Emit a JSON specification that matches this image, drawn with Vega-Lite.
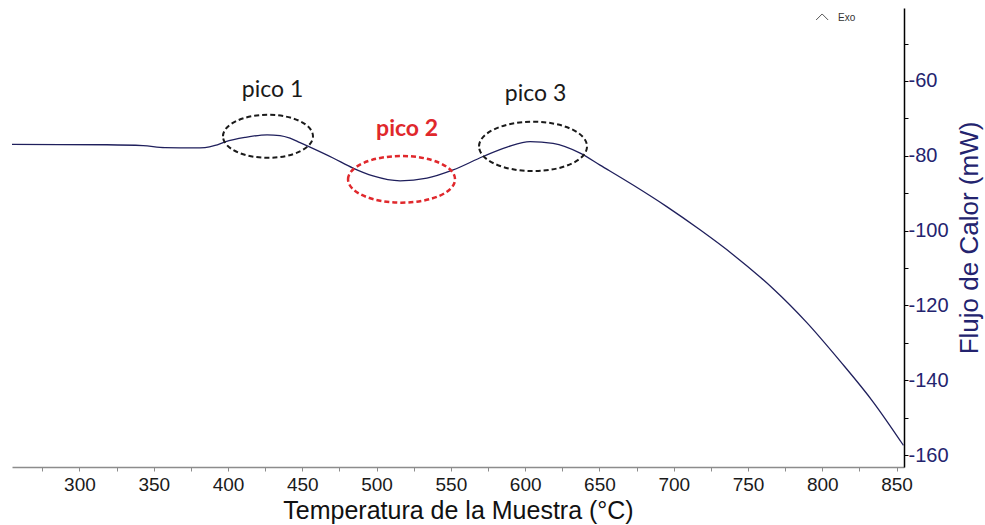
{
  "$schema": "https://vega.github.io/schema/vega-lite/v6.json",
  "width": 892,
  "height": 459,
  "autosize": {"type": "none"},
  "padding": {"left": 12, "top": 8, "right": 81, "bottom": 58},
  "background": "white",
  "config": {"view": {"stroke": null}},
  "datasets": {
    "curve": [
      {"T": 254.6, "flux": -76.98},
      {"T": 286.9, "flux": -77.0},
      {"T": 318.5, "flux": -77.06},
      {"T": 342.8, "flux": -77.3},
      {"T": 357.6, "flux": -77.8},
      {"T": 377.8, "flux": -77.9},
      {"T": 384.5, "flux": -77.8},
      {"T": 391.3, "flux": -77.25},
      {"T": 398.0, "flux": -76.3},
      {"T": 411.4, "flux": -75.1},
      {"T": 426.3, "flux": -74.4},
      {"T": 435.0, "flux": -74.6},
      {"T": 441.7, "flux": -75.3},
      {"T": 448.5, "flux": -76.5},
      {"T": 455.2, "flux": -77.7},
      {"T": 470.7, "flux": -80.6},
      {"T": 484.1, "flux": -83.3},
      {"T": 497.6, "flux": -85.4},
      {"T": 515.8, "flux": -86.7},
      {"T": 533.9, "flux": -86.0},
      {"T": 551.5, "flux": -83.8},
      {"T": 571.7, "flux": -80.2},
      {"T": 587.8, "flux": -77.7},
      {"T": 603.3, "flux": -76.2},
      {"T": 618.8, "flux": -76.7},
      {"T": 637.0, "flux": -79.3},
      {"T": 650.4, "flux": -82.5},
      {"T": 672.9, "flux": -87.9},
      {"T": 695.3, "flux": -93.6},
      {"T": 717.7, "flux": -99.8},
      {"T": 740.2, "flux": -106.5},
      {"T": 758.1, "flux": -112.4},
      {"T": 767.1, "flux": -115.6},
      {"T": 789.6, "flux": -124.6},
      {"T": 812.0, "flux": -134.9},
      {"T": 834.4, "flux": -145.9},
      {"T": 854.6, "flux": -157.4}
    ],
    "ellipses": [
      {"label": "pico 1", "T": 426.9, "flux": -74.8},
      {"label": "pico 2", "T": 516.8, "flux": -86.3},
      {"label": "pico 3", "T": 605.3, "flux": -77.5}
    ],
    "labels": [
      {"label": "pico 1", "T": 430.0, "flux": -62.4},
      {"label": "pico 2", "T": 520.5, "flux": -72.8},
      {"label": "pico 3", "T": 607.0, "flux": -63.5}
    ],
    "exo": [
      {"label": "Exo", "T": 799.9, "flux": -42.9, "tT": 810.6, "tflux": -43.2}
    ]
  },
  "encoding": {
    "x": {
      "field": "T",
      "type": "quantitative",
      "scale": {"domain": [254.6, 855], "nice": false, "zero": false},
      "axis": {
        "orient": "bottom",
        "title": "Temperatura de la Muestra (°C)",
        "values": [275, 300, 325, 350, 375, 400, 425, 450, 475, 500, 525, 550, 575, 600, 625, 650, 675, 700, 725, 750, 775, 800, 825, 850],
        "labelExpr": "datum.value % 50 == 0 ? '' + datum.value : ''",
        "labelOverlap": false,
        "labelFlush": false,
        "grid": false,
        "domainColor": "#8c8c8c",
        "domainWidth": 1.5,
        "tickColor": "#8c8c8c",
        "tickSize": 4,
        "labelFont": "Liberation Sans",
        "labelFontSize": 19,
        "labelColor": "#1a1a1a",
        "labelPadding": 4,
        "titleFont": "Liberation Sans",
        "titleFontSize": 25,
        "titleFontWeight": "normal",
        "titleColor": "#111111",
        "titlePadding": 4
      }
    },
    "y": {
      "field": "flux",
      "type": "quantitative",
      "scale": {"domain": [-163.2, -40.5], "nice": false, "zero": false},
      "axis": {
        "orient": "right",
        "title": "Flujo de Calor (mW)",
        "values": [-160, -150, -140, -130, -120, -110, -100, -90, -80, -70, -60, -50],
        "labelExpr": "datum.value % 20 == 0 ? '' + datum.value : ''",
        "labelOverlap": false,
        "labelFlush": false,
        "grid": false,
        "domainColor": "#000000",
        "domainWidth": 1.5,
        "tickColor": "#000000",
        "tickSize": 4,
        "labelFont": "Liberation Sans",
        "labelFontSize": 20,
        "labelColor": "#23236e",
        "labelPadding": 0,
        "titleFont": "Liberation Sans",
        "titleFontSize": 26,
        "titleFontWeight": "normal",
        "titleColor": "#23236e",
        "titleAngle": 270,
        "titlePadding": 34
      }
    }
  },
  "layer": [
    {
      "data": {"name": "curve"},
      "mark": {"type": "line", "color": "#1f1f5c", "strokeWidth": 1.3, "interpolate": "monotone"}
    },
    {
      "data": {"name": "ellipses"},
      "transform": [{"filter": "datum.label == 'pico 1'"}],
      "mark": {"type": "point", "filled": false, "stroke": "#1a1a1a", "strokeWidth": 2, "strokeDash": [5, 3], "opacity": 1, "size": 8100,
        "shape": "M -1 0 C -1 -0.264 -0.5523 -0.478 0 -0.478 C 0.5523 -0.478 1 -0.264 1 0 C 1 0.264 0.5523 0.478 0 0.478 C -0.5523 0.478 -1 0.264 -1 0 Z"}
    },
    {
      "data": {"name": "ellipses"},
      "transform": [{"filter": "datum.label == 'pico 2'"}],
      "mark": {"type": "point", "filled": false, "stroke": "#e0282c", "strokeWidth": 2.5, "strokeDash": [5, 3], "opacity": 1, "size": 11449,
        "shape": "M -1 0 C -1 -0.241 -0.5523 -0.436 0 -0.436 C 0.5523 -0.436 1 -0.241 1 0 C 1 0.241 0.5523 0.436 0 0.436 C -0.5523 0.436 -1 0.241 -1 0 Z"}
    },
    {
      "data": {"name": "ellipses"},
      "transform": [{"filter": "datum.label == 'pico 3'"}],
      "mark": {"type": "point", "filled": false, "stroke": "#1a1a1a", "strokeWidth": 2, "strokeDash": [5, 3], "opacity": 1, "size": 11664,
        "shape": "M -1 0 C -1 -0.252 -0.5523 -0.457 0 -0.457 C 0.5523 -0.457 1 -0.252 1 0 C 1 0.252 0.5523 0.457 0 0.457 C -0.5523 0.457 -1 0.252 -1 0 Z"}
    },
    {
      "data": {"name": "labels"},
      "transform": [{"filter": "datum.label != 'pico 2'"}],
      "mark": {"type": "text", "font": "Lato", "fontSize": 23, "baseline": "middle", "align": "center", "color": "#1a1a1a"},
      "encoding": {"text": {"field": "label"}}
    },
    {
      "data": {"name": "labels"},
      "transform": [{"filter": "datum.label == 'pico 2'"}],
      "mark": {"type": "text", "font": "Lato", "fontSize": 23, "fontWeight": "bold", "baseline": "middle", "align": "center", "color": "#e0282c"},
      "encoding": {"text": {"field": "label"}}
    },
    {
      "data": {"name": "exo"},
      "mark": {"type": "point", "filled": false, "stroke": "#555555", "strokeWidth": 1, "opacity": 1, "size": 144, "shape": "M -1 0.5 L 0 -0.5 L 1 0.5"}
    },
    {
      "data": {"name": "exo"},
      "mark": {"type": "text", "font": "Liberation Sans", "fontSize": 10, "color": "#333333", "align": "left", "baseline": "middle"},
      "encoding": {
        "x": {"field": "tT", "type": "quantitative"},
        "y": {"field": "tflux", "type": "quantitative"},
        "text": {"field": "label"}
      }
    }
  ]
}
